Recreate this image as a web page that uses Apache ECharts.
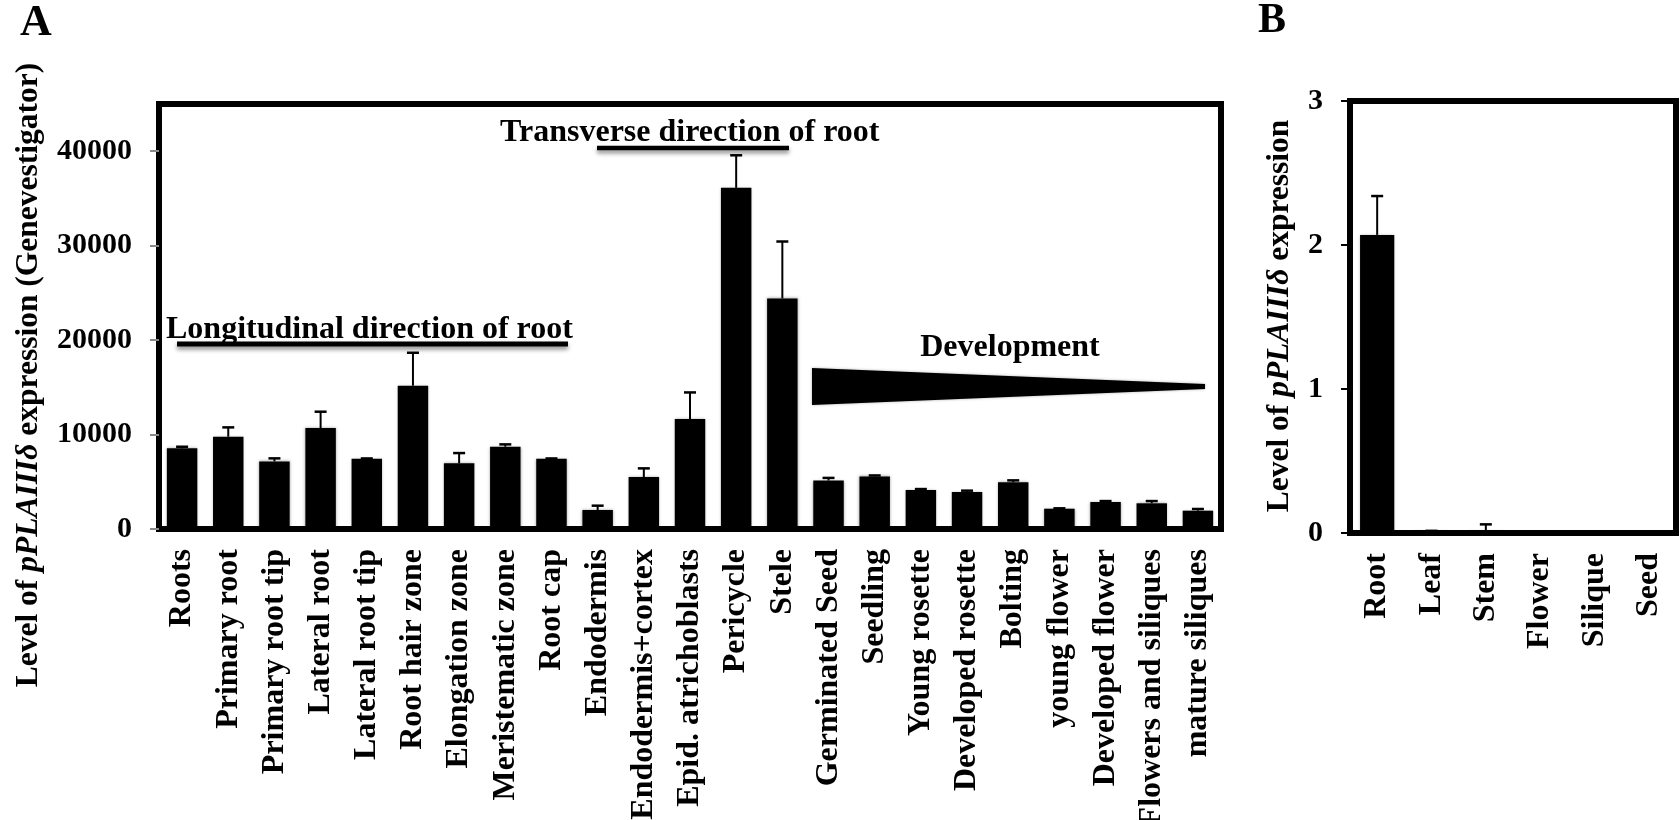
<!DOCTYPE html>
<html>
<head>
<meta charset="utf-8">
<script src="https://cdn.jsdelivr.net/npm/echarts@6/dist/echarts.min.js"></script>
<style>
  html, body { margin: 0; padding: 0; background: #fff; }
  #chart { width: 1680px; height: 820px; }
</style>
</head>
<body>
<div id="chart"></div>
<script>
// panel A: Genevestigator expression across tissues / stages
const tissues = [
    'Roots', 'Primary root', 'Primary root tip', 'Lateral root', 'Lateral root tip',
    'Root hair zone', 'Elongation zone', 'Meristematic zone', 'Root cap', 'Endodermis',
    'Endodermis+cortex', 'Epid. atrichoblasts', 'Pericycle', 'Stele', 'Germinated Seed',
    'Seedling', 'Young rosette', 'Developed rosette', 'Bolting', 'young flower',
    'Developed flower', 'Flowers and siliques', 'mature siliques',
];
const tissueLevel = [
    8540, 9770, 7160, 10690, 7440, 15170, 6950, 8710, 7440, 2010,
    5500, 11640, 36120, 24410, 5130, 5560, 4130, 3920, 4940, 2150,
    2860, 2720, 1940,
];
const tissueErr = [
    170, 990, 320, 1730, 30, 3490, 1090, 250, 30, 460,
    920, 2820, 3450, 6030, 280, 110, 100, 140, 210, 40,
    100, 240, 180,
];
const ticksA = [0, 10000, 20000, 30000, 40000];

// panel B: qRT-PCR in organs
const organs = ['Root', 'Leaf', 'Stem', 'Flower', 'Silique', 'Seed'];
const organLevel = [2.07, 0.01, 0.01, 0, 0, 0];
const organErr = [0.27, 0.005, 0.05, 0, 0, 0];
const ticksB = [0, 1, 2, 3];

const FONT = '"Liberation Serif", "Times New Roman", serif';

function errRender(capHalf) {
    return function (params, api) {
        const e = api.value(2);
        if (!e) return;
        const i = api.value(0);
        const v = api.value(1);
        const p0 = api.coord([i, v]);
        const p1 = api.coord([i, v + e]);
        return {
            type: 'group',
            children: [
                { type: 'line', shape: { x1: p0[0], y1: p0[1], x2: p1[0], y2: p1[1] },
                  style: { stroke: '#000', lineWidth: 2 } },
                { type: 'line', shape: { x1: p1[0] - capHalf, y1: p1[1], x2: p1[0] + capHalf, y2: p1[1] },
                  style: { stroke: '#000', lineWidth: 2.5 } },
            ],
        };
    };
}

const catLabel = {
    rotate: 90, interval: 0, margin: 20, color: '#000',
    fontFamily: FONT, fontWeight: 'bold', fontSize: 32,
};
function valLabel(showMax) {
    return {
        margin: 27, color: '#000', showMaxLabel: showMax,
        fontFamily: FONT, fontWeight: 'bold', fontSize: 30,
        formatter: v => String(v),
    };
}

const titleRich = {
    n: { fontFamily: FONT, fontWeight: 'bold', fontSize: 31.5, fill: '#000' },
    i: { fontFamily: FONT, fontWeight: 'bold', fontStyle: 'italic', fontSize: 31.5, fill: '#000' },
};

const shadow = { shadowColor: 'rgba(0,0,0,0.45)', shadowBlur: 4, shadowOffsetY: 3 };

const chart = echarts.init(document.getElementById('chart'), null, { renderer: 'canvas' });

chart.setOption({
    backgroundColor: '#fff',
    animation: false,
    grid: [
        { left: 159, top: 104, width: 1062, height: 425, show: true, outerBoundsMode: 'none',
          borderColor: '#000', borderWidth: 6, backgroundColor: 'transparent' },
        { left: 1350, top: 101, width: 326, height: 432, show: true, outerBoundsMode: 'none',
          borderColor: '#000', borderWidth: 6, backgroundColor: 'transparent' },
    ],
    xAxis: [
        { type: 'category', gridIndex: 0, data: tissues,
          axisLine: { show: false }, axisTick: { show: false }, axisLabel: catLabel },
        { type: 'category', gridIndex: 1, data: organs,
          axisLine: { show: false }, axisTick: { show: false }, axisLabel: catLabel },
    ],
    yAxis: [
        { type: 'value', gridIndex: 0, min: ticksA[0], max: 45000,
          interval: ticksA[1] - ticksA[0], splitLine: { show: false },
          axisLine: { show: false },
          axisTick: { show: true, length: 9, lineStyle: { color: '#888', width: 2 } },
          axisLabel: valLabel(false) },
        { type: 'value', gridIndex: 1, min: ticksB[0], max: ticksB[ticksB.length - 1],
          interval: ticksB[1] - ticksB[0], splitLine: { show: false },
          axisLine: { show: false },
          axisTick: { show: true, length: 9, lineStyle: { color: '#000', width: 2 } },
          axisLabel: valLabel(true) },
    ],
    series: [
        { type: 'bar', xAxisIndex: 0, yAxisIndex: 0, data: tissueLevel, barWidth: '66%',
          itemStyle: { color: '#000', shadowColor: 'rgba(0,0,0,0.35)', shadowBlur: 3 } },
        { type: 'custom', xAxisIndex: 0, yAxisIndex: 0, z: 5,
          renderItem: errRender(6),
          encode: { x: 0, y: 1 },
          data: tissues.map((c, i) => [i, tissueLevel[i], tissueErr[i]]) },
        { type: 'bar', xAxisIndex: 1, yAxisIndex: 1, data: organLevel, barWidth: '63%',
          itemStyle: { color: '#000', shadowColor: 'rgba(0,0,0,0.35)', shadowBlur: 3 } },
        { type: 'custom', xAxisIndex: 1, yAxisIndex: 1, z: 5,
          renderItem: errRender(6),
          encode: { x: 0, y: 1 },
          data: organs.map((c, i) => [i, organLevel[i], organErr[i]]) },
    ],
    graphic: [
        { type: 'text', left: 20, top: 2,
          style: { text: 'A', font: 'bold 44px ' + FONT, fill: '#000' } },
        { type: 'text', left: 1258, top: 0,
          style: { text: 'B', font: 'bold 42px ' + FONT, fill: '#000' } },
        // y titles
        { type: 'text', x: 29, y: 375, rotation: Math.PI / 2,
          style: { text: '{n|Level of }{i|pPLAIIIδ}{n| expression (Genevestigator)}',
                   rich: titleRich, align: 'center', verticalAlign: 'middle' } },
        { type: 'text', x: 1280, y: 316, rotation: Math.PI / 2,
          style: { text: '{n|Level of }{i|pPLAIIIδ}{n| expression}',
                   rich: titleRich, align: 'center', verticalAlign: 'middle' } },
        // annotations
        { type: 'text', x: 166, y: 330, z: 10,
          style: { text: 'Longitudinal direction of root', font: 'bold 32px ' + FONT,
                   fill: '#000', align: 'left', verticalAlign: 'middle' } },
        { type: 'line', z: 9, shape: { x1: 177, y1: 344, x2: 568, y2: 344 },
          style: Object.assign({ stroke: '#000', lineWidth: 5 }, shadow) },
        { type: 'text', x: 500, y: 133, z: 10,
          style: { text: 'Transverse direction of root', font: 'bold 32px ' + FONT,
                   fill: '#000', align: 'left', verticalAlign: 'middle' } },
        { type: 'line', z: 9, shape: { x1: 597, y1: 148, x2: 789, y2: 148 },
          style: Object.assign({ stroke: '#000', lineWidth: 4.5 }, shadow) },
        { type: 'text', x: 1010, y: 348, z: 10,
          style: { text: 'Development', font: 'bold 32px ' + FONT,
                   fill: '#000', align: 'center', verticalAlign: 'middle' } },
        { type: 'polygon', z: 9,
          shape: { points: [[812, 368], [812, 405], [1205, 389], [1205, 384]] },
          style: { fill: '#000', shadowColor: 'rgba(0,0,0,0.3)', shadowBlur: 3 } },
    ],
});
</script>
</body>
</html>
